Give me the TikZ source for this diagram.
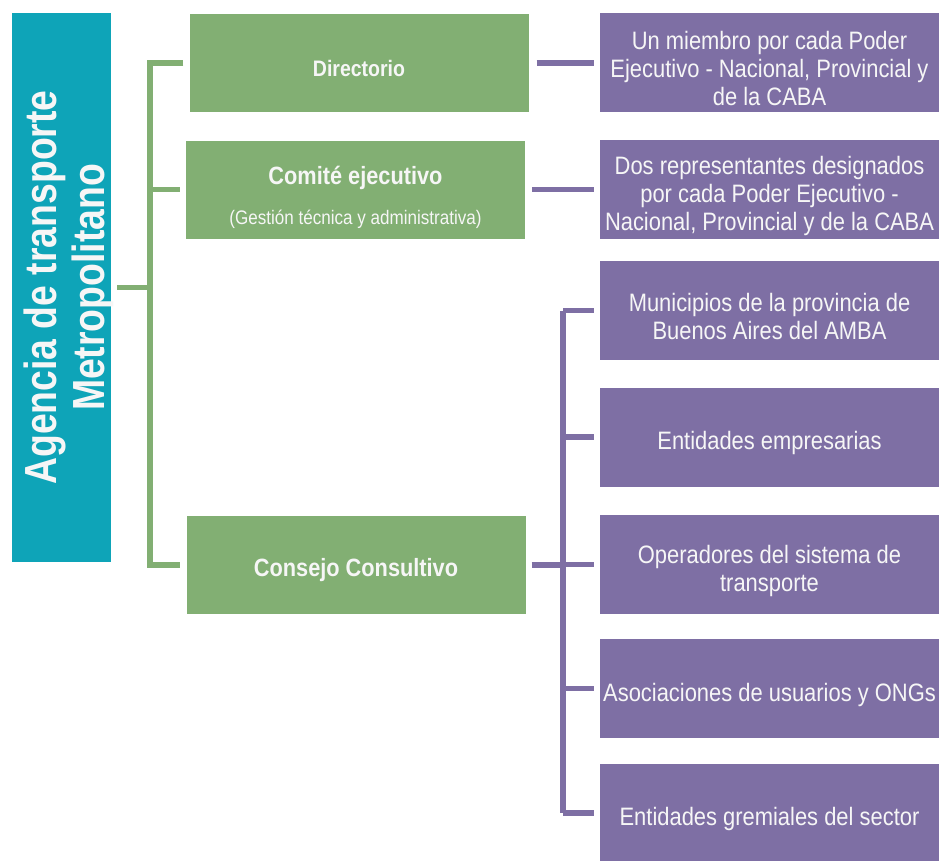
\documentclass[tikz,border=0pt]{standalone}
\usepackage{fontspec}
\setmainfont[FakeStretch=0.87]{Liberation Sans}
\newfontfamily\agencyfont[FakeStretch=0.83]{Liberation Sans}
\usetikzlibrary{calc}
\definecolor{agencyteal}{RGB}{14,164,184}
\definecolor{organgreen}{RGB}{130,175,115}
\definecolor{memberpurple}{RGB}{126,111,164}
\definecolor{boxtext}{RGB}{246,246,246}

\begin{document}
\begin{tikzpicture}[
  x=1pt,y=-1pt,
  agency/.style={fill=agencyteal, minimum width=99pt, minimum height=549pt, inner sep=0pt},
  agencytext/.style={xshift=7.5pt, rotate=90, text=boxtext, align=center, inner sep=0pt, font=\agencyfont\bfseries\fontsize{45}{48}\selectfont},
  organ/.style={fill=organgreen, minimum width=339pt, minimum height=98pt, inner sep=0pt},
  organtext/.style={yshift=-5pt, text=boxtext, align=center, inner sep=0pt, font=\bfseries\fontsize{25}{30}\selectfont},
  member/.style={fill=memberpurple, minimum width=339pt, minimum height=99pt, inner sep=0pt},
  membertext/.style={yshift=-6pt, text=boxtext, align=center, inner sep=0pt, font=\fontsize{25.2}{28}\selectfont},
  gline/.style={draw=organgreen, line width=5.5pt},
  pline/.style={draw=memberpurple, line width=5.5pt}
]
\useasboundingbox (0,0) rectangle (939,860);
\node[agency, label={[agencytext]center:{Agencia de transporte\\Metropolitano}}] (agencia) at (61.5,287.5) {};
\node[organ, label={[organtext, font=\bfseries\fontsize{22.4}{27}\selectfont]center:{Directorio}}] (dir) at (359,63) {};
\node[organ, label={[organtext, yshift=-3pt]center:{Comité ejecutivo\\[10pt]{\mdseries\fontsize{19.6}{23}\selectfont (Gestión técnica y administrativa)}}}] (com) at (355.5,189.5) {};
\node[organ, label={[organtext]center:{Consejo Consultivo}}] (cons) at (356,565) {};
\node[member, label={[membertext]center:{Un miembro por cada Poder\\Ejecutivo - Nacional, Provincial y\\de la CABA}}] (miembro) at (769.5,62.5) {};
\node[member, label={[membertext]center:{Dos representantes designados\\por cada Poder Ejecutivo -\\Nacional, Provincial y de la CABA}}] (repres) at (769.5,189.5) {};
\node[member, label={[membertext]center:{Municipios de la provincia de\\Buenos Aires del AMBA}}] (munic) at (769.5,310.5) {};
\node[member, label={[membertext]center:{Entidades empresarias}}] (empres) at (769.5,437) {};
\node[member, label={[membertext]center:{Operadores del sistema de\\transporte}}] (operad) at (769.5,564.5) {};
\node[member, label={[membertext]center:{Asociaciones de usuarios y ONGs}}] (usuar) at (769.5,688.5) {};
\node[member, label={[membertext]center:{Entidades gremiales del sector}}] (gremio) at (769.5,813) {};
\coordinate (gbus) at (150,0);
\coordinate (pbus) at (563,0);
\draw[gline, shorten <=6pt] (agencia.east) -- (agencia.east -| gbus);
\draw[gline, shorten <=6pt, shorten >=6pt] (dir.west) -- (dir.west -| gbus) -- (cons.west -| gbus) -- (cons.west);
\draw[gline, shorten >=6pt] (com.west -| gbus) -- (com.west);
\draw[pline, shorten <=8pt, shorten >=6pt] (dir.east) -- (dir.east -| miembro.west);
\draw[pline, shorten <=7pt, shorten >=6pt] (com.east) -- (com.east -| repres.west);
\draw[pline, shorten <=6pt] (cons.east) -- (cons.east -| pbus);
\draw[pline] (munic.west -| pbus) -- (gremio.west -| pbus);
\foreach \m in {munic,empres,operad,usuar,gremio}{\draw[pline, shorten >=6pt] (\m.west -| pbus) -- (\m.west);}
\end{tikzpicture}
\end{document}
